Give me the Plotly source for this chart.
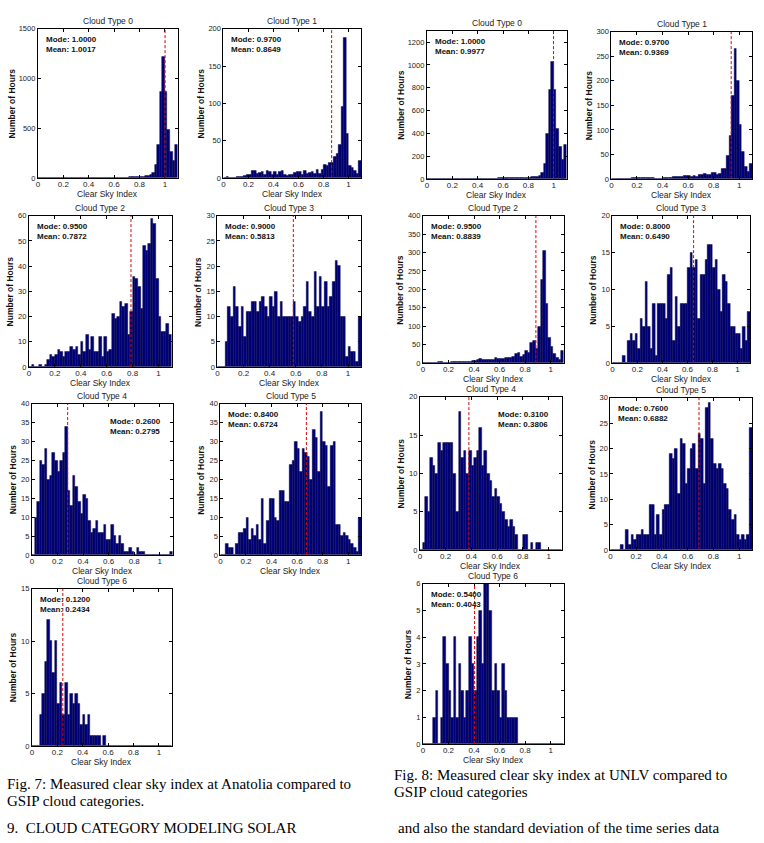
import plotly.graph_objects as go

W, H = 764, 843

# ---------------- data ----------------
bin_centers = [0.01, 0.03, 0.05, 0.07, 0.09, 0.11, 0.13, 0.15, 0.17, 0.19,
               0.21, 0.23, 0.25, 0.27, 0.29, 0.31, 0.33, 0.35, 0.37, 0.39,
               0.41, 0.43, 0.45, 0.47, 0.49, 0.51, 0.53, 0.55, 0.57, 0.59,
               0.61, 0.63, 0.65, 0.67, 0.69, 0.71, 0.73, 0.75, 0.77, 0.79,
               0.81, 0.83, 0.85, 0.87, 0.89, 0.91, 0.93, 0.95, 0.97, 0.99,
               1.01, 1.03, 1.05, 1.07, 1.09]
x_tick_vals = [0, 0.2, 0.4, 0.6, 0.8, 1]
x_tick_text = ["0", "0.2", "0.4", "0.6", "0.8", "1"]

anatolia_ct0 = [0, 0, 0, 0, 0, 0, 0, 3, 2, 3,
                2, 3, 2, 4, 3, 3, 4, 3, 4, 4,
                5, 4, 6, 5, 4, 5, 6, 4, 5, 6,
                5, 6, 7, 6, 8, 8, 9, 10, 11, 12,
                14, 16, 20, 25, 35, 55, 130, 340, 870, 1220,
                870, 490, 270, 170, 335]
anatolia_ct1 = [1, 2, 0, 0, 0, 2, 2, 2, 3, 4,
                5, 10, 10, 6, 7, 9, 5, 10, 9, 5,
                9, 5, 9, 10, 4, 3, 5, 4, 7, 8,
                9, 5, 10, 6, 7, 8, 6, 11, 6, 11,
                18, 17, 20, 21, 29, 33, 45, 95, 188, 60,
                16, 14, 10, 6, 23]
anatolia_ct2 = [0, 1, 0, 0, 1, 0, 1, 3, 5, 4,
                5, 7, 6, 4, 6, 6, 8, 7, 8, 5,
                10, 6, 13, 7, 12, 6, 6, 12, 4, 12,
                6, 7, 21, 19, 20, 26, 24, 25, 13, 22,
                36, 35, 32, 23, 48, 46, 49, 59, 57, 35,
                20, 14, 14, 17, 13]
anatolia_ct3 = [0, 0, 0, 5, 12, 10, 16, 12, 8, 12,
                6, 11, 11, 13, 13, 11, 13, 14, 12, 10,
                14, 12, 15, 10, 13, 10, 10, 10, 10, 13,
                10, 9, 10, 12, 17, 11, 10, 19, 12, 18,
                12, 17, 12, 14, 17, 21, 20, 10, 10, 2,
                4, 3, 3, 1, 10]
anatolia_ct4 = [0, 10, 14, 25, 24, 28, 20, 21, 27, 25,
                22, 25, 27, 34, 17, 13, 21, 18, 14, 11,
                16, 15, 9, 6, 7, 9, 6, 6, 8, 4,
                4, 8, 5, 3, 5, 3, 1, 1, 2, 1,
                0, 2, 1, 1, 0, 0, 0, 0, 0, 0,
                0, 0, 0, 0, 1]
anatolia_ct5 = [0, 0, 3, 2, 2, 0, 3, 6, 6, 7,
                10, 4, 7, 5, 8, 4, 15, 3, 9, 15,
                15, 10, 9, 17, 17, 14, 14, 24, 25, 30,
                28, 22, 28, 27, 26, 20, 33, 31, 22, 38,
                30, 29, 18, 29, 30, 8, 8, 5, 6, 5,
                4, 3, 2, 1, 10]
anatolia_ct6 = [0, 0, 0, 3, 5, 8, 12, 10, 7, 10,
                4, 6, 3, 6, 3, 5, 4, 5, 4, 2,
                3, 2, 3, 1, 1, 1, 1, 0, 1, 0,
                0, 0, 0, 0, 0, 0, 0, 0, 0, 0,
                0, 0, 0, 0, 0, 0, 0, 0, 0, 0,
                0, 0, 0, 0, 0]

unlv_ct0 = [0, 0, 0, 0, 0, 0, 0, 0, 0, 0,
            0, 0, 0, 3, 4, 4, 3, 4, 4, 5,
            5, 6, 5, 6, 6, 7, 6, 7, 8, 8,
            9, 9, 10, 10, 11, 12, 12, 13, 14, 15,
            16, 18, 20, 22, 30, 60, 135, 400, 780, 1025,
            780, 440, 280, 170, 300]
unlv_ct1 = [0, 0, 0, 0, 0, 0, 0, 0, 2, 3,
            2, 3, 3, 2, 3, 3, 3, 0, 0, 1,
            3, 3, 3, 2, 4, 4, 5, 4, 7, 6,
            6, 5, 6, 5, 8, 10, 12, 10, 8, 14,
            14, 10, 12, 22, 22, 48, 88, 170, 265, 200,
            110, 55, 25, 15, 32]
unlv_ct2 = [0, 0, 0, 0, 0, 0, 4, 4, 0, 2,
            2, 3, 3, 4, 4, 4, 4, 5, 5, 6,
            6, 8, 12, 10, 8, 9, 10, 10, 14, 12,
            12, 13, 15, 16, 16, 17, 25, 28, 18, 22,
            35, 28, 55, 60, 40, 100, 225, 305, 160, 70,
            45, 25, 15, 8, 35]
unlv_ct3 = [0, 0, 0, 0, 1, 0, 3, 4, 3, 4,
            2, 6, 5, 11, 5, 2, 8, 1, 8, 8,
            8, 6, 12, 13, 3, 9, 5, 8, 8, 8,
            13, 15, 13, 14, 6, 12, 12, 14, 16, 16,
            13, 14, 10, 7, 12, 11, 8, 5, 5, 4,
            4, 2, 5, 3, 7]
unlv_ct4 = [0, 1, 7, 5, 12, 11, 10, 14, 13, 14,
            14, 14, 14, 10, 5, 18, 12, 13, 10, 13,
            11, 12, 13, 16, 11, 13, 10, 9, 7, 8,
            7, 6, 5, 4, 3, 4, 3, 2, 0, 0,
            2, 2, 0, 1, 0, 1, 1, 0, 0, 0,
            0, 0, 0, 0, 0]
unlv_ct5 = [0, 0, 0, 0, 1, 0, 4, 1, 3, 2,
            3, 3, 4, 3, 3, 9, 9, 3, 7, 3,
            8, 9, 9, 19, 18, 20, 11, 22, 21, 13,
            16, 20, 21, 16, 23, 22, 13, 28, 29, 22,
            17, 16, 17, 16, 13, 12, 8, 6, 7, 3,
            2, 3, 2, 3, 24]
unlv_ct6 = [0, 0, 0, 0, 1, 2, 0, 1, 4, 3,
            2, 1, 4, 1, 3, 2, 1, 2, 4, 3,
            2, 4, 5, 3, 6, 6, 5, 2, 3, 2,
            1, 3, 2, 1, 1, 1, 1, 0, 0, 0,
            0, 0, 0, 0, 0, 0, 0, 0, 0, 0,
            0, 0, 0, 0, 0]

titles = ["Cloud Type 0", "Cloud Type 1", "Cloud Type 2", "Cloud Type 3",
          "Cloud Type 4", "Cloud Type 5", "Cloud Type 6"]
anatolia_mode = [1.0000, 0.9700, 0.9500, 0.9000, 0.2600, 0.8400, 0.1200]
anatolia_mean = [1.0017, 0.8649, 0.7872, 0.5813, 0.2795, 0.6724, 0.2434]
anatolia_ymax = [1500, 200, 60, 30, 40, 40, 15]
anatolia_dtick = [500, 50, 10, 5, 5, 5, 5]
unlv_mode = [1.0000, 0.9700, 0.9500, 0.8000, 0.3100, 0.7600, 0.5400]
unlv_mean = [0.9977, 0.9369, 0.8839, 0.6490, 0.3806, 0.6882, 0.4043]
unlv_ymax = [1300, 300, 400, 20, 20, 30, 6]
unlv_dtick = [200, 50, 50, 5, 5, 5, 1]

anatolia = [anatolia_ct0, anatolia_ct1, anatolia_ct2, anatolia_ct3,
            anatolia_ct4, anatolia_ct5, anatolia_ct6]
unlv = [unlv_ct0, unlv_ct1, unlv_ct2, unlv_ct3, unlv_ct4, unlv_ct5, unlv_ct6]

# ---------------- layout (pixel boxes: left, right, top, bottom) ----------------
anatolia_boxes = [(36, 176, 25, 176), (222, 360, 25, 176),
                  (27, 170, 214, 367), (216, 360, 214, 367),
                  (30, 171, 404, 557), (219, 360, 404, 557),
                  (30, 170, 591, 750)]
unlv_boxes = [(426, 566, 27, 177), (611, 752, 28, 177),
              (422, 563, 214, 363), (612, 750, 214, 363),
              (419, 561, 397, 552), (610, 752, 398, 552),
              (422, 563, 586, 748)]

NAVY = "#00007c"
SANS = "Liberation Sans, Arial, sans-serif"
SERIF = "Liberation Serif, Times New Roman, serif"


def px(x):
    return x / W


def py(y):
    return 1 - y / H


fig = go.Figure()
layout = dict(width=W, height=H, margin=dict(l=0, r=0, t=0, b=0),
              paper_bgcolor="white", plot_bgcolor="white",
              showlegend=False, bargap=0)
shapes = []
annotations = []

panels = []
for k in range(7):
    panels.append(dict(vals=anatolia[k], box=anatolia_boxes[k], ymax=anatolia_ymax[k],
                       dtick=anatolia_dtick[k], mode=anatolia_mode[k],
                       mean=anatolia_mean[k], title=titles[k], right=(k == 4)))
for k in range(7):
    panels.append(dict(vals=unlv[k], box=unlv_boxes[k], ymax=unlv_ymax[k],
                       dtick=unlv_dtick[k], mode=unlv_mode[k],
                       mean=unlv_mean[k], title=titles[k], right=(k == 4)))

for i, p in enumerate(panels, start=1):
    l, r, t, b = p["box"]
    xa = "x" if i == 1 else f"x{i}"
    ya = "y" if i == 1 else f"y{i}"
    fig.add_trace(go.Bar(x=bin_centers, y=p["vals"], width=0.02,
                         marker=dict(color=NAVY, line=dict(color="#000035", width=0.4)),
                         xaxis=xa, yaxis=ya, hoverinfo="skip"))
    axstyle = dict(showline=True, linecolor="black", linewidth=1, mirror="allticks",
                   ticks="inside", ticklen=3, tickcolor="black", tickwidth=1,
                   showgrid=False, zeroline=False)
    layout["xaxis" if i == 1 else f"xaxis{i}"] = dict(
        domain=[px(l), px(r)], anchor=ya, range=[0, 1.1],
        tickvals=x_tick_vals, ticktext=x_tick_text, ticklabelstandoff=-2,
        tickfont=dict(family=SANS, size=8, color="#222"), **axstyle)
    layout["yaxis" if i == 1 else f"yaxis{i}"] = dict(
        domain=[py(b), py(t)], anchor=xa, range=[0, p["ymax"]],
        tick0=0, dtick=p["dtick"],
        tickfont=dict(family=SANS, size=7.5, color="#222"), **axstyle)

    # mean line
    shapes.append(dict(type="line", xref=xa, yref=f"{ya} domain",
                       x0=p["mean"], x1=p["mean"], y0=0, y1=1,
                       line=dict(color="#e00000", width=1, dash="3px,2px")))
    # title
    annotations.append(dict(text=p["title"], x=px((l + r) / 2), y=py(t - 8),
                            xref="paper", yref="paper", showarrow=False,
                            xanchor="center", yanchor="middle",
                            font=dict(family=SANS, size=8.5, color="#222")))
    # x label
    annotations.append(dict(text="Clear Sky Index", x=px((l + r) / 2), y=py(b + 16),
                            xref="paper", yref="paper", showarrow=False,
                            xanchor="center", yanchor="middle",
                            font=dict(family=SANS, size=8.5, color="#222")))
    # y label
    nd = len(str(p["ymax"] - p["ymax"] % p["dtick"]))
    off = 12 + 3.5 * nd
    annotations.append(dict(text="<b>Number of Hours</b>", x=px(l - off), y=py((t + b) / 2),
                            xref="paper", yref="paper", showarrow=False, textangle=-90,
                            xanchor="center", yanchor="middle",
                            font=dict(family=SANS, size=8.5, color="#111")))
    # stats
    stats = f"<b>Mode: {p['mode']:.4f}<br>Mean: {p['mean']:.4f}</b>"
    if p["right"]:
        sx, sy = l + 76, t + 11
    else:
        sx, sy = l + 6, t + 4
    annotations.append(dict(text=stats, x=px(sx), y=py(sy), xref="paper", yref="paper",
                            showarrow=False, xanchor="left", yanchor="top", align="left",
                            font=dict(family=SANS, size=8, color="#111")))

# captions
cap = dict(xref="paper", yref="paper", showarrow=False, xanchor="left", yanchor="middle",
           font=dict(family=SERIF, size=15, color="black"))
annotations.append(dict(text="Fig. 7: Measured clear sky index at Anatolia compared to",
                        x=px(3), y=py(788), **cap))
annotations.append(dict(text="GSIP cloud categories.", x=px(3), y=py(806), **cap))
annotations.append(dict(text="Fig. 8: Measured clear sky index at UNLV compared to",
                        x=px(391), y=py(779), **cap))
annotations.append(dict(text="GSIP cloud categories", x=px(391), y=py(797), **cap))
annotations.append(dict(text="9.  CLOUD CATEGORY MODELING SOLAR",
                        x=px(3), y=py(833), **cap))
annotations.append(dict(text="and also the standard deviation of the time series data",
                        x=px(395), y=py(833), **cap))

layout["shapes"] = shapes
layout["annotations"] = annotations
fig.update_layout(**layout)
fig.write_html("out.html")
